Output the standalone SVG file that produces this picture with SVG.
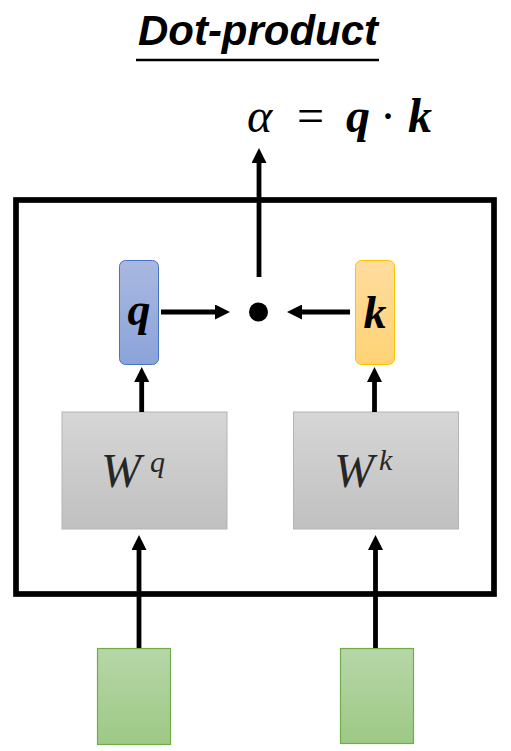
<svg xmlns="http://www.w3.org/2000/svg" width="511" height="751" viewBox="0 0 511 751">
<style>
.title{font-family:"Liberation Sans",Arial,sans-serif;font-weight:bold;font-style:italic;font-size:42px;fill:#000}
.math{font-family:"Liberation Serif","DejaVu Serif",serif;fill:#000}
.bi{font-weight:bold;font-style:italic}
.it{font-style:italic}
.wtxt{font-family:"Liberation Serif","DejaVu Serif",serif;font-style:italic;fill:#262626}
.conn line{stroke:#000;stroke-width:4.8;marker-end:url(#ah)}
</style>
<defs>
<marker id="ah" viewBox="0 0 15 15" refX="0" refY="7.5" markerWidth="15" markerHeight="15" markerUnits="userSpaceOnUse" orient="auto">
<path d="M0,0 L15,7.5 L0,15 Z" fill="#000"/>
</marker>
<linearGradient id="gq" x1="0" y1="0" x2="0" y2="1"><stop offset="0" stop-color="#a9b8e0"/><stop offset="1" stop-color="#8ba3da"/></linearGradient>
<linearGradient id="gk" x1="0" y1="0" x2="0" y2="1"><stop offset="0" stop-color="#fedc9e"/><stop offset="1" stop-color="#ffd274"/></linearGradient>
<linearGradient id="gw" x1="0" y1="0" x2="0" y2="1"><stop offset="0" stop-color="#d6d6d6"/><stop offset="1" stop-color="#c0c0c0"/></linearGradient>
<linearGradient id="gg" x1="0" y1="0" x2="0" y2="1"><stop offset="0" stop-color="#b7d6a8"/><stop offset="1" stop-color="#9dc985"/></linearGradient>
</defs>
<rect width="511" height="751" fill="#fff"/>
<g id="title">
<text class="title" x="258" y="45" text-anchor="middle" textLength="240" lengthAdjust="spacingAndGlyphs">Dot-product</text>
<line x1="136" y1="60" x2="379" y2="60" stroke="#000" stroke-width="2.4"/>
</g>
<g id="formula" class="math" font-size="48">
<text class="it" x="247" y="132">α</text>
<text x="297" y="132">=</text>
<text class="bi" x="346" y="132">q</text>
<text x="380" y="132">·</text>
<text class="bi" x="408" y="132">k</text>
</g>
<g id="frame"><rect x="16" y="200" width="478" height="394" fill="none" stroke="#000" stroke-width="5.7"/></g>
<g id="node-q">
<rect x="119.5" y="260.5" width="39" height="104" rx="6" fill="url(#gq)" stroke="#4472c4" stroke-width="1"/>
<text class="math bi" x="139" y="325" font-size="46" text-anchor="middle">q</text>
</g>
<g id="node-k">
<rect x="355.5" y="260.5" width="39" height="104" rx="6" fill="url(#gk)" stroke="#ffc000" stroke-width="1"/>
<text class="math bi" x="375" y="328" font-size="46" text-anchor="middle">k</text>
</g>
<g id="node-dot"><circle cx="258.5" cy="312" r="9.5" fill="#000"/></g>
<g id="node-wq">
<rect x="62" y="412" width="165" height="117" fill="url(#gw)" stroke="#b4b4b4" stroke-width="1"/>
<text class="wtxt" x="101" y="487" font-size="48">W</text>
<text class="wtxt" x="150" y="472" font-size="30">q</text>
</g>
<g id="node-wk">
<rect x="293.5" y="412" width="165" height="117" fill="url(#gw)" stroke="#b4b4b4" stroke-width="1"/>
<text class="wtxt" x="334" y="487" font-size="48">W</text>
<text class="wtxt" x="379" y="470" font-size="30">k</text>
</g>
<g id="node-x1"><rect x="97.5" y="648.5" width="73" height="96" fill="url(#gg)" stroke="#70ad47" stroke-width="1.2"/></g>
<g id="node-x2"><rect x="340.5" y="648.5" width="73" height="95" fill="url(#gg)" stroke="#70ad47" stroke-width="1.2"/></g>
<g id="connectors" class="conn">
<line x1="259" y1="277" x2="259" y2="163"/>
<line x1="141.7" y1="412" x2="141.7" y2="382"/>
<line x1="374.5" y1="412" x2="374.5" y2="382"/>
<line x1="139" y1="648" x2="139" y2="550"/>
<line x1="375.5" y1="648" x2="375.5" y2="550"/>
<line x1="161" y1="312" x2="215" y2="312"/>
<line x1="350" y1="312" x2="302" y2="312"/>
</g>
</svg>
